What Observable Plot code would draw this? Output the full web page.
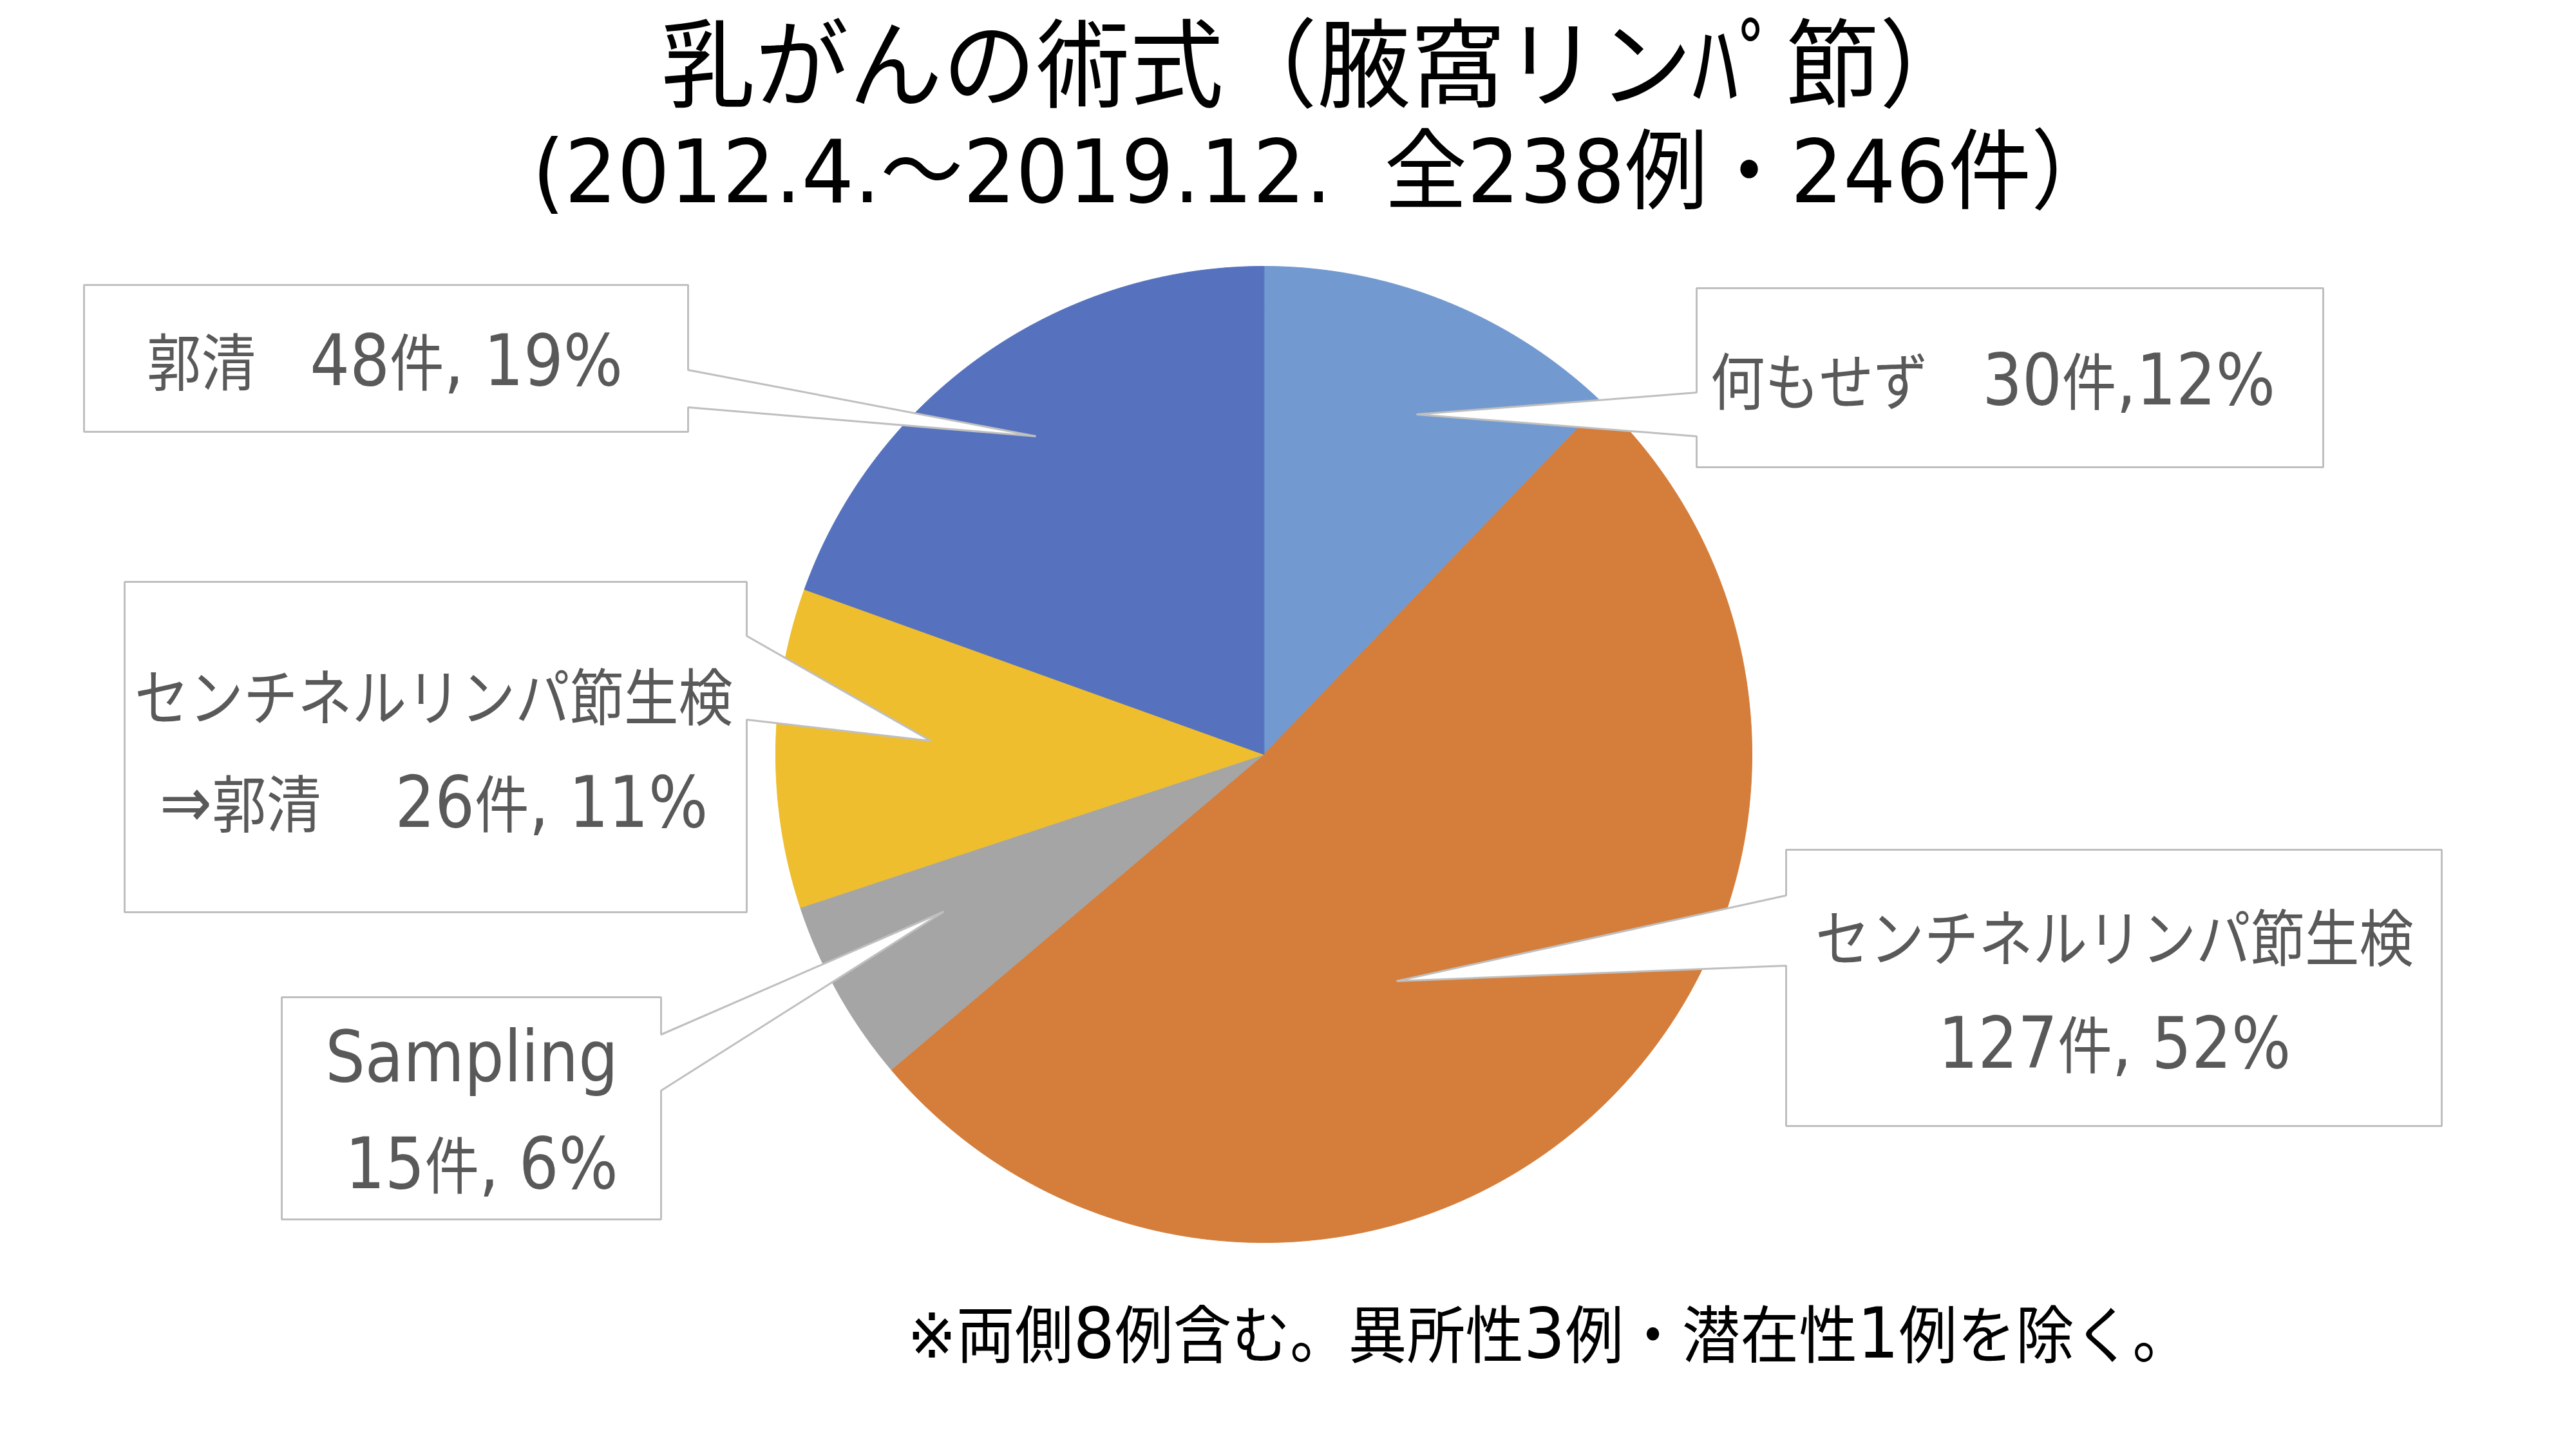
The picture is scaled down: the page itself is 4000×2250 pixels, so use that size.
<!DOCTYPE html>
<html>
<head>
<meta charset="utf-8">
<script src="https://cdn.jsdelivr.net/npm/d3@7"></script>
<script src="https://cdn.jsdelivr.net/npm/@observablehq/plot@0.6"></script>
<style>
  html, body { margin: 0; padding: 0; background: #ffffff; }
  svg text { white-space: pre; }
</style>
</head>
<body>
<div id="chart"></div>
<script>
// ---- data ----
const categories = ["何もせず", "センチネルリンパ節生検", "Sampling", "センチネルリンパ節生検⇒郭清", "郭清"];
const counts = [30, 127, 15, 26, 48];
const percents = [12, 52, 6, 11, 19];
const labelLines = [
  "何もせず　30件,12%",
  "センチネルリンパ節生検\n127件, 52%",
  "Sampling\n 15件, 6%",
  "センチネルリンパ節生検\n⇒郭清　 26件, 11%",
  "郭清　48件, 19%"
];
const titleText = "乳がんの術式（腋窩リンﾊﾟ節）";
const subtitleText = "(2012.4.～2019.12.  全238例・246件）";
const noteText = "※両側8例含む。異所性3例・潜在性1例を除く。";

// ---- styles / layout ----
const colors = ["#729AD0", "#D57D3A", "#A5A5A5", "#EEBE2F", "#5672BE"];
const W = 4000, H = 2250;
const pie = {cx: 1962, cy: 1171, r: 758};
const callouts = [
  {l: 2634, r: 3607, t: 447, b: 725, side: "left", y1: 609, y2: 677, tx: 2199, ty: 643, lx: 3094},
  {l: 2773, r: 3791, t: 1319, b: 1748, side: "left", y1: 1390, y2: 1499, tx: 2168, ty: 1523, lx: 3283},
  {l: 437, r: 1026, t: 1548, b: 1893, side: "right", y1: 1606, y2: 1693, tx: 1465, ty: 1415, lx: 732},
  {l: 193, r: 1159, t: 903, b: 1416, side: "right", y1: 987, y2: 1117, tx: 1445, ty: 1150, lx: 673},
  {l: 130, r: 1068, t: 442, b: 670, side: "right", y1: 574, y2: 632, tx: 1608, ty: 677, lx: 597}
];
const fontFamily = "'DejaVu Sans', 'Noto Sans CJK JP', sans-serif";
// per text mark (labels, title, subtitle, note): horizontal compression and latin-run size factor
const textScaleX = [0.88, 0.97, 0.945, 0.935];
const latinSize = [1.15, 1, 1, 1.12];
const baseSize = [96, 150, 136, 97];

// ---- pie geometry from the counts ----
const arcs = d3.pie().sort(null).value(d => d)(counts);
const marks = [];
arcs.forEach((a, i) => {
  const pts = [{x: pie.cx, y: pie.cy}];
  const n = Math.max(4, Math.ceil((a.endAngle - a.startAngle) / (Math.PI / 720)));
  for (let k = 0; k <= n; k++) {
    const t = a.startAngle + (a.endAngle - a.startAngle) * k / n;
    pts.push({x: pie.cx + pie.r * Math.sin(t), y: pie.cy - pie.r * Math.cos(t)});
  }
  marks.push(Plot.line(pts, {x: "x", y: "y", fill: colors[i], stroke: colors[i], strokeWidth: 1, curve: "linear-closed"}));
});

// ---- callout boxes ----
callouts.forEach((c) => {
  const pts = c.side === "right"
    ? [[c.l, c.t], [c.r, c.t], [c.r, c.y1], [c.tx, c.ty], [c.r, c.y2], [c.r, c.b], [c.l, c.b]]
    : [[c.l, c.t], [c.r, c.t], [c.r, c.b], [c.l, c.b], [c.l, c.y2], [c.tx, c.ty], [c.l, c.y1]];
  marks.push(Plot.line(pts.map(([x, y]) => ({x, y})), {
    x: "x", y: "y", fill: "#ffffff", stroke: "#BFBFBF", strokeWidth: 3,
    strokeLinejoin: "miter", strokeLinecap: "butt", curve: "linear-closed"
  }));
});

// ---- labels ----
const labelData = labelLines.map((t, i) => ({
  text: t,
  x: callouts[i].lx,
  y: (callouts[i].t + callouts[i].b) / 2 - 12
}));
marks.push(Plot.text(labelData, {
  x: "x", y: "y", text: "text", fontSize: baseSize[0], fill: "#595959",
  lineHeight: 1.73, textAnchor: "middle", lineAnchor: "middle", fontFamily
}));

// ---- titles and note ----
marks.push(Plot.text([{x: 2045, y: 106, t: titleText}], {
  x: "x", y: "y", text: "t", fontSize: baseSize[1], fill: "#000000", lineAnchor: "middle", fontFamily
}));
marks.push(Plot.text([{x: 2054, y: 270, t: subtitleText}], {
  x: "x", y: "y", text: "t", fontSize: baseSize[2], fill: "#000000", lineAnchor: "middle", fontFamily
}));
marks.push(Plot.text([{x: 2405, y: 2076, t: noteText}], {
  x: "x", y: "y", text: "t", fontSize: baseSize[3], fill: "#000000", lineAnchor: "middle", fontFamily
}));

const chart = Plot.plot({
  width: W,
  height: H,
  margin: 0,
  x: {domain: [0, W], range: [0, W], axis: null},
  y: {domain: [0, H], range: [0, H], axis: null},
  style: {background: "#ffffff", overflow: "visible"},
  marks
});

// typographic post-processing: latin runs a little larger, text compressed horizontally
const SVGNS = "http://www.w3.org/2000/svg";
const latinRun = /([\x20-\x7E\u21D2]+)/;
function splitLatin(node, size) {
  const parts = node.textContent.split(latinRun).filter(p => p.length);
  const frag = document.createDocumentFragment();
  parts.forEach(p => {
    if (/^[\x20-\x7E\u21D2]+$/.test(p)) {
      const ts = document.createElementNS(SVGNS, "tspan");
      ts.setAttribute("font-size", size);
      ts.textContent = p;
      frag.appendChild(ts);
    } else {
      frag.appendChild(document.createTextNode(p));
    }
  });
  node.parentNode.replaceChild(frag, node);
}
chart.querySelectorAll('g[aria-label="text"]').forEach((g, gi) => {
  const sx = textScaleX[gi] ?? 1;
  const ls = latinSize[gi] ?? 1;
  g.querySelectorAll("text").forEach((t) => {
    const tr = t.getAttribute("transform") || "";
    t.setAttribute("transform", `${tr} scale(${sx},1)`);
    if (ls !== 1) {
      const holders = [t, ...t.querySelectorAll("tspan")];
      holders.forEach(h => {
        Array.from(h.childNodes).filter(n => n.nodeType === 3).forEach(n => splitLatin(n, baseSize[gi] * ls));
      });
    }
  });
});
document.getElementById("chart").appendChild(chart);
</script>
</body>
</html>
